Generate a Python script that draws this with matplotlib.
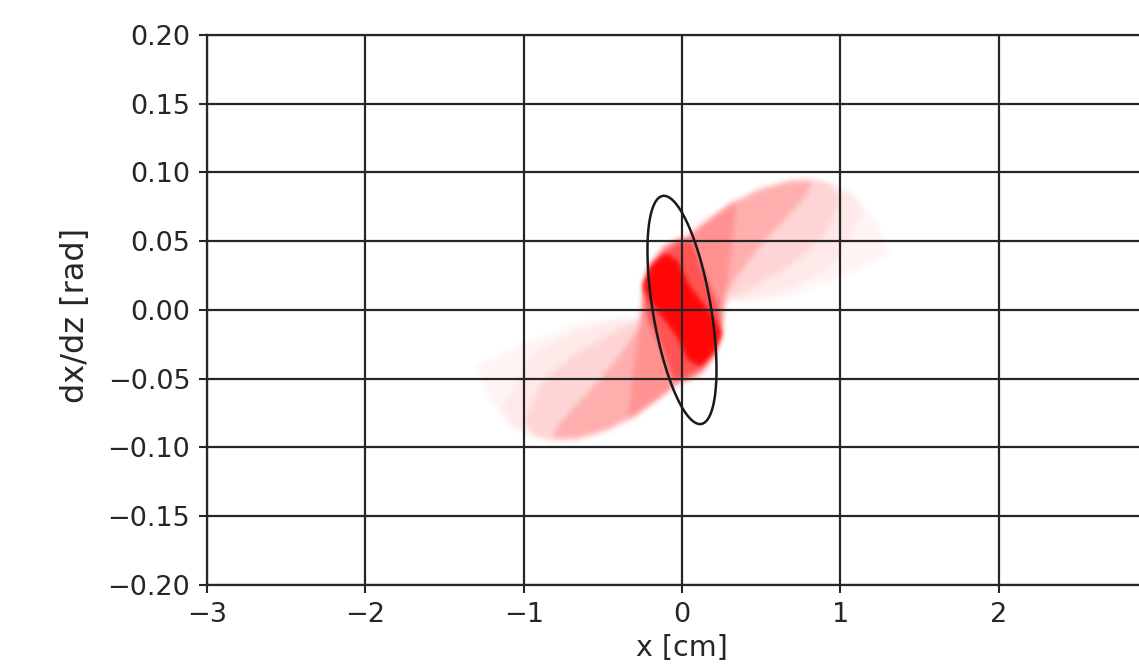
import numpy as np
import matplotlib
matplotlib.use("Agg")
import matplotlib.pyplot as plt
from matplotlib.path import Path
from matplotlib.patches import Polygon

# phase-space cloud, read off the picture as nested density regions (x [cm], dx/dz [rad])
# outer faint envelope
env_x = [1.31, 1.22, 1.07, 0.93, 0.80, 0.676, 0.486, 0.297, 0.128, 0.023, -0.10, -0.19, -0.245,
         -0.25, -0.40, -0.66, -0.97, -1.31,
         -1.22, -1.07, -0.93, -0.80, -0.676, -0.486, -0.297, -0.128, -0.023, 0.10, 0.19, 0.245,
         0.25, 0.40, 0.66, 0.97]
env_y = [0.041, 0.065, 0.085, 0.093, 0.096, 0.0955, 0.089, 0.078, 0.064, 0.054, 0.045, 0.033, 0.018,
         -0.007, -0.005, -0.0095, -0.022, -0.041,
         -0.065, -0.085, -0.093, -0.096, -0.0955, -0.089, -0.078, -0.064, -0.054, -0.045, -0.033, -0.018,
         0.007, 0.005, 0.0095, 0.022]

# outer wing (between envelope and wing body)
outer_x = [1.15, 1.07, 0.93, 0.80, 0.676, 0.486, 0.297, 0.128, 0.023, -0.10, -0.19, -0.245,
           -0.26, -0.42, -0.68, -0.95, -1.15,
           -1.07, -0.93, -0.80, -0.676, -0.486, -0.297, -0.128, -0.023, 0.10, 0.19, 0.245,
           0.26, 0.42, 0.68, 0.95]
outer_y = [0.072, 0.085, 0.093, 0.096, 0.095, 0.089, 0.078, 0.064, 0.054, 0.045, 0.033, 0.018,
           -0.006, -0.008, -0.016, -0.032, -0.072,
           -0.085, -0.093, -0.096, -0.095, -0.089, -0.078, -0.064, -0.054, -0.045, -0.033, -0.018,
           0.006, 0.008, 0.016, 0.032]

# wing bodies
wing_x = [1.0, 0.93, 0.80, 0.676, 0.486, 0.297, 0.128, 0.023, -0.10, -0.19, -0.24,
          -0.28, -0.45, -0.70, -0.90, -1.0,
          -0.93, -0.80, -0.676, -0.486, -0.297, -0.128, -0.023, 0.10, 0.19, 0.24,
          0.28, 0.45, 0.70, 0.90]
wing_y = [0.080, 0.092, 0.095, 0.094, 0.088, 0.077, 0.063, 0.053, 0.044, 0.032, 0.018,
          -0.008, -0.017, -0.034, -0.055, -0.080,
          -0.092, -0.095, -0.094, -0.088, -0.077, -0.063, -0.053, -0.044, -0.032, -0.018,
          0.008, 0.017, 0.034, 0.055]

# band along the sharp edges
band_x = [0.82, 0.676, 0.486, 0.297, 0.128, 0.023, -0.10, -0.19, -0.24,
          -0.27, -0.38, -0.52, -0.66, -0.78,
          -0.82, -0.676, -0.486, -0.297, -0.128, -0.023, 0.10, 0.19, 0.24,
          0.27, 0.38, 0.52, 0.66, 0.78]
band_y = [0.093, 0.093, 0.087, 0.076, 0.062, 0.052, 0.043, 0.031, 0.018,
          -0.012, -0.030, -0.051, -0.068, -0.083,
          -0.093, -0.093, -0.087, -0.076, -0.062, -0.052, -0.043, -0.031, -0.018,
          0.012, 0.030, 0.051, 0.068, 0.083]

# wing roots around the core
root_x = [0.34, 0.128, 0.023, -0.10, -0.19, -0.24, -0.27, -0.31, -0.34,
          -0.128, -0.023, 0.10, 0.19, 0.24, 0.27, 0.31]
root_y = [0.080, 0.062, 0.052, 0.043, 0.031, 0.018, -0.010, -0.045, -0.080,
          -0.062, -0.052, -0.043, -0.031, -0.018, 0.010, 0.045]

# halo of the core
halo_x = [-0.25, -0.20, -0.12, -0.02, 0.06, 0.12, 0.22, 0.25, 0.20, 0.12, 0.02, -0.06, -0.12, -0.22]
halo_y = [0.017, 0.034, 0.046, 0.052, 0.050, 0.030, 0.005, -0.017, -0.034, -0.046, -0.052, -0.050, -0.030, -0.005]

# dense core
core_x = [-0.24, -0.19, -0.11, -0.04, 0.03, 0.12, 0.20, 0.235, 0.19, 0.11, 0.04, -0.03, -0.12, -0.20]
core_y = [0.018, 0.032, 0.040, 0.035, 0.018, 0.004, -0.008, -0.017, -0.030, -0.040, -0.035, -0.018, -0.004, 0.008]

# region, density weight
layers = [(env_x, env_y, 0.045), (outer_x, outer_y, 0.05), (wing_x, wing_y, 0.09),
          (band_x, band_y, 0.20), (root_x, root_y, 0.18), (halo_x, halo_y, 0.55),
          (core_x, core_y, 2.6)]

# Twiss ellipse
emit = 0.01542    # cm rad
alpha = 0.613
beta = 3.08       # cm/rad


def blur(a, sx, sy):
    def kern(s):
        r = int(3*s) + 1
        k = np.exp(-0.5*(np.arange(-r, r+1)/s)**2)
        return k/k.sum()
    kx, ky = kern(sx), kern(sy)
    a = np.apply_along_axis(lambda v: np.convolve(v, kx, mode='same'), 1, a)
    a = np.apply_along_axis(lambda v: np.convolve(v, ky, mode='same'), 0, a)
    return a


fig = plt.figure(figsize=(11.39, 6.68), dpi=100)
ax = fig.add_axes([0.1817, 0.1243, 0.8341, 0.8234])

# density map of the cloud built from the regions above
gx = np.linspace(-1.6, 1.6, 641)
gy = np.linspace(-0.13, 0.13, 521)
XX, YY = np.meshgrid(gx, gy)
pts = np.column_stack([XX.ravel(), YY.ravel()])
dens = np.zeros(XX.shape)
for lx, ly, w in layers:
    inside = Path(np.column_stack([lx, ly])).contains_points(pts).reshape(XX.shape)
    dens += w*inside
dens = blur(dens, 3.4, 3.8)
img = np.zeros(dens.shape + (4,))
img[..., 0] = 1.0
img[..., 3] = 1 - np.exp(-dens)
ax.imshow(img, extent=[gx[0], gx[-1], gy[0], gy[-1]], origin='lower',
          aspect='auto', interpolation='bilinear', zorder=0)

t = np.linspace(0, 2*np.pi, 400, endpoint=False)
ex = np.sqrt(emit*beta)*np.cos(t)
ey = -np.sqrt(emit/beta)*(alpha*np.cos(t) + np.sin(t))
ax.add_patch(Polygon(np.column_stack([ex, ey]), closed=True, fill=False,
                     edgecolor='0.1', lw=1.8, zorder=2))

ax.set_xlim(-3, 3)
ax.set_ylim(-0.2, 0.2)
ax.set_xticks(np.arange(-3, 3, 1))
ax.set_yticks(np.arange(-0.2, 0.201, 0.05))
ax.grid(True, color='0.15', lw=1.6)
for s in ax.spines.values():
    s.set_color('0.15')
    s.set_linewidth(1.6)
ax.tick_params(length=6, width=1.5, pad=6, labelsize=19.5, colors='0.15')
ax.set_xlabel('x [cm]', fontsize=20.5, color='0.15')
ax.set_ylabel('dx/dz [rad]', fontsize=23, color='0.15')
ax.xaxis.set_label_coords(0.5, -0.09)
ax.yaxis.set_label_coords(-0.122, 0.49)

plt.savefig('out.png', dpi=100)
